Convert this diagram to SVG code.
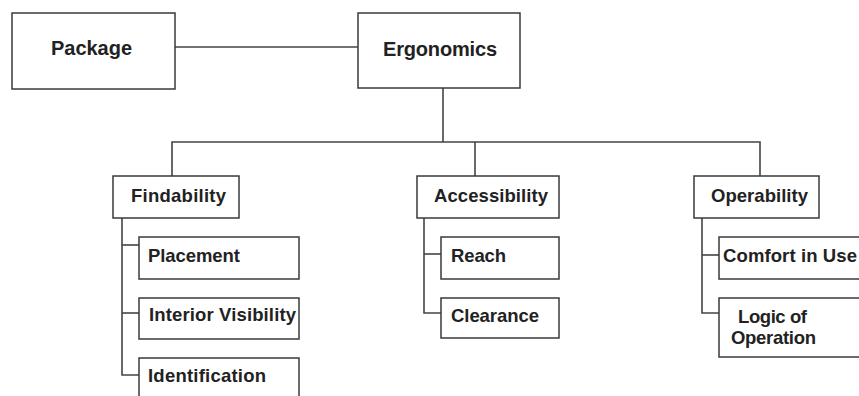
<svg xmlns="http://www.w3.org/2000/svg" width="859" height="396" viewBox="0 0 859 396">
  <style>
    .box { fill: #ffffff; stroke: #3a3a3a; stroke-width: 1.5; }
    .lbl { font-family: "Liberation Sans", Arial, sans-serif; font-weight: bold; fill: #222222; font-size: 18.5px; }
    .big { font-size: 20px; }
    .wire { fill: none; stroke: #444444; stroke-width: 1.6; }
  </style>
  <rect width="859" height="396" fill="#ffffff"/>

  <!-- connectors -->
  <g id="connectors" class="wire">
    <line x1="175" y1="47" x2="358" y2="47"/>
    <line x1="443" y1="88" x2="443" y2="142"/>
    <polyline points="172,176 172,142 760,142 760,176"/>
    <line x1="475" y1="142" x2="475" y2="176"/>
    <!-- Findability children -->
    <polyline points="122,218 122,375 139,375"/>
    <line x1="122" y1="245" x2="139" y2="245"/>
    <line x1="122" y1="313" x2="139" y2="313"/>
    <!-- Accessibility children -->
    <polyline points="424,218 424,313 441,313"/>
    <line x1="424" y1="254" x2="441" y2="254"/>
    <!-- Operability children -->
    <polyline points="702,218 702,313 719,313"/>
    <line x1="702" y1="255" x2="719" y2="255"/>
  </g>

  <g id="package">
    <rect class="box" x="12" y="13" width="163" height="76"/>
    <text class="lbl big" x="51" y="55" textLength="81">Package</text>
  </g>
  <g id="ergonomics">
    <rect class="box" x="358" y="13" width="162" height="75"/>
    <text class="lbl big" x="383" y="56" textLength="114">Ergonomics</text>
  </g>

  <g id="findability">
    <rect class="box" x="113" y="176" width="126" height="42"/>
    <text class="lbl" x="131" y="202" textLength="95">Findability</text>
  </g>
  <g id="placement">
    <rect class="box" x="139" y="237" width="160" height="42"/>
    <text class="lbl" x="148" y="262" textLength="92">Placement</text>
  </g>
  <g id="interior-visibility">
    <rect class="box" x="139" y="298" width="160" height="41"/>
    <text class="lbl" x="149" y="321" textLength="147">Interior Visibility</text>
  </g>
  <g id="identification">
    <rect class="box" x="139" y="358" width="160" height="50"/>
    <text class="lbl" x="148" y="382" textLength="118">Identification</text>
  </g>

  <g id="accessibility">
    <rect class="box" x="417" y="176" width="142" height="42"/>
    <text class="lbl" x="434" y="202" textLength="114">Accessibility</text>
  </g>
  <g id="reach">
    <rect class="box" x="441" y="237" width="118" height="42"/>
    <text class="lbl" x="451" y="262" textLength="55">Reach</text>
  </g>
  <g id="clearance">
    <rect class="box" x="441" y="298" width="118" height="40"/>
    <text class="lbl" x="451" y="322" textLength="88">Clearance</text>
  </g>

  <g id="operability">
    <rect class="box" x="694" y="176" width="125" height="42"/>
    <text class="lbl" x="711" y="202" textLength="97">Operability</text>
  </g>
  <g id="comfort-in-use">
    <rect class="box" x="719" y="237" width="160" height="42"/>
    <text class="lbl" x="723" y="262" textLength="134">Comfort in Use</text>
  </g>
  <g id="logic-of-operation">
    <rect class="box" x="719" y="298" width="160" height="59"/>
    <text class="lbl" x="738" y="323" textLength="69">Logic of</text>
    <text class="lbl" x="731" y="344" textLength="85">Operation</text>
  </g>
</svg>
